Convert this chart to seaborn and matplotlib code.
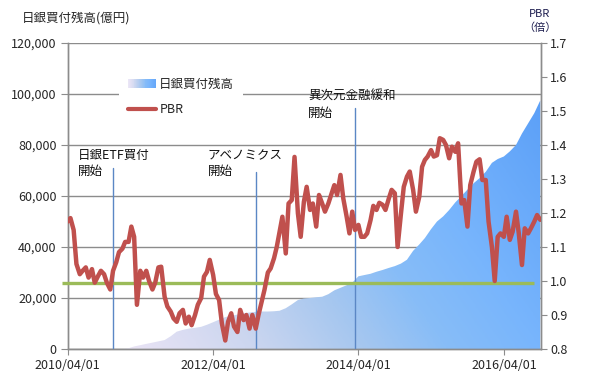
import numpy as np
import pandas as pd
import matplotlib
matplotlib.use("Agg")
import matplotlib.pyplot as plt
import matplotlib.dates as mdates
import seaborn as sns
from matplotlib.colors import LinearSegmentedColormap
from matplotlib.legend_handler import HandlerBase
from matplotlib.patches import Rectangle, Patch
from matplotlib.lines import Line2D
from matplotlib.ticker import FuncFormatter, MultipleLocator

sns.set_style("white")
plt.rcParams['font.family'] = ['Noto Sans CJK JP', 'DejaVu Sans']

# ---------------- data ----------------
pbr_start = "2010-04-01"   # semi-monthly samples
pbr_values = [
    1.175, 1.185, 1.15, 1.05, 1.02, 1.03, 1.04, 1.01, 1.035, 0.995,
    1.015, 1.03, 1.02, 0.995, 0.975, 1.03, 1.055, 1.085, 1.095, 1.115,
    1.115, 1.16, 1.13, 0.93, 1.03, 1.01, 1.03, 1.0, 0.975, 0.995,
    1.04, 1.042, 0.954, 0.925, 0.91, 0.89, 0.88, 0.905, 0.915, 0.875,
    0.895, 0.87, 0.9, 0.93, 0.95, 1.013, 1.027, 1.062, 1.018, 0.962,
    0.944, 0.875, 0.825, 0.88, 0.905, 0.866, 0.85, 0.915, 0.885, 0.9,
    0.86, 0.9, 0.86, 0.9, 0.939, 0.974, 1.025, 1.037, 1.067, 1.101,
    1.145, 1.189, 1.081, 1.228, 1.238, 1.365, 1.199, 1.13, 1.233, 1.277,
    1.209, 1.228, 1.16, 1.253, 1.228, 1.204, 1.228, 1.253, 1.282, 1.253,
    1.312, 1.243, 1.189, 1.14, 1.204, 1.15, 1.165, 1.13, 1.13, 1.14,
    1.179, 1.221, 1.209, 1.23, 1.224, 1.209, 1.243, 1.268, 1.258, 1.1,
    1.199, 1.277, 1.307, 1.322, 1.268, 1.204, 1.248, 1.336, 1.356, 1.366,
    1.385, 1.366, 1.37, 1.42, 1.415, 1.4, 1.361, 1.395, 1.38, 1.405,
    1.228, 1.238, 1.16, 1.282, 1.322, 1.351, 1.358, 1.297, 1.297, 1.175,
    1.1, 1.0, 1.13, 1.14, 1.13, 1.189, 1.121, 1.145, 1.204, 1.14,
    1.047, 1.155, 1.14, 1.155, 1.175, 1.194, 1.18,
]

holding_start = "2011-01-01"   # monthly, 億円
holding_values = [
    0, 300, 1000, 1500, 2000, 2500, 3000, 3500, 5000, 6800,
    7500, 8000, 8300, 8700, 9500, 10500, 11500, 12500, 13000, 13500,
    14000, 14300, 14600, 14700, 14700, 14800, 15000, 16000, 17500, 19200,
    19800, 20000, 20300, 20500, 21500, 23000, 24000, 25000, 26000, 28500,
    29000, 29500, 30300, 31000, 31800, 32500, 33500, 35000, 38500, 41000,
    43500, 47000, 50000, 52000, 54500, 57500, 60000, 62500, 65000, 67000,
    69500, 73000, 74500, 75500, 77500, 80000, 84500, 88500, 92500, 97500,
]

pbr_one = 0.995
x_tick_dates = ["2010-04-01", "2012-04-01", "2014-04-01", "2016-04-01"]
x_tick_labels = ["2010/04/01", "2012/04/01", "2014/04/01", "2016/04/01"]
event_labels = ["日銀ETF買付\n開始", "アベノミクス\n開始", "異次元金融緩和\n開始"]
event_dates = ["2010-11-13", "2012-11-01", "2014-03-13"]
legend_labels = ["日銀買付残高", "PBR"]

# ---------------- frames ----------------
pbr_df = pd.DataFrame({
    "date": pd.date_range(pbr_start, periods=len(pbr_values), freq="SMS"),
    "PBR": pbr_values,
})
hold_df = pd.DataFrame({
    "date": pd.date_range(holding_start, periods=len(holding_values), freq="MS"),
    "hold": holding_values,
})

RED = "#c0504d"
GREEN = "#9bbb59"
VBLUE = "#5b87c5"
GRID = "#8c8c8c"

fig = plt.figure(figsize=(5.9, 3.8), dpi=100)
ax = fig.add_axes([0.1147, 0.0816, 0.8017, 0.8052])
ax2 = ax.twinx()

x0 = pd.Timestamp("2010-04-01")
x1 = pd.Timestamp("2016-10-03")
ax.set_xlim(x0, x1)
ax.set_ylim(0, 120000)
ax2.set_ylim(0.8, 1.7)

# gradient area
grad_cmap = LinearSegmentedColormap.from_list("g", [
    (0.0, (0.95, 0.94, 0.98)),
    (0.1, (0.91, 0.89, 0.96)),
    (0.28, (0.80, 0.84, 0.94)),
    (0.45, (0.65, 0.78, 0.94)),
    (0.58, (0.53, 0.74, 0.97)),
    (0.72, (0.47, 0.71, 0.99)),
    (1.0, (0.35, 0.62, 0.97)),
])
poly = ax.fill_between(hold_df["date"], 0, hold_df["hold"], color="none", lw=0, zorder=2)
path = poly.get_paths()[0]
nx, ny = 300, 150
xx, yy = np.meshgrid(np.linspace(0, 1, nx), np.linspace(0, 1, ny))
t = np.clip(0.72 * xx + 0.32 * yy, 0, 1)
img = grad_cmap(t)
xn0, xn1 = mdates.date2num(x0), mdates.date2num(x1)
im = ax.imshow(img, extent=[xn0, xn1, 0, 120000], origin="lower", aspect="auto", zorder=2)
im.set_clip_path(path, transform=ax.transData)
ax.set_xlim(x0, x1)
ax.set_ylim(0, 120000)

# grid
ax.yaxis.set_major_locator(MultipleLocator(20000))
ax.grid(axis="y", color=GRID, lw=1.0, zorder=0)
ax.grid(axis="x", visible=False)
ax.set_axisbelow(True)
ax.yaxis.set_major_formatter(FuncFormatter(lambda v, p: f"{int(v):,}"))

# vertical event lines + labels
ev_tops = [0.59, 0.58, 0.788]
txt_pos = [("2010-05-23", 78500), ("2012-03-06", 78500), ("2013-07-23", 101500)]
for d, top in zip(event_dates, ev_tops):
    ax2.axvline(pd.Timestamp(d), ymin=0, ymax=top, color=VBLUE, lw=1.0, zorder=3)
for lab, (d, yv) in zip(event_labels, txt_pos):
    ax.text(pd.Timestamp(d), yv, lab, fontsize=9, va="top", ha="left",
            linespacing=1.35, color="#111111", zorder=6)

# PBR=1 green line
ax2.plot([pd.Timestamp("2010-03-03"), pd.Timestamp("2016-09-01")], [pbr_one, pbr_one],
         color=GREEN, lw=2.4, clip_on=False, zorder=4, solid_capstyle="butt")

# PBR line
sns.lineplot(data=pbr_df, x="date", y="PBR", ax=ax2, color=RED, lw=3.2, zorder=5)
ax2.set_ylim(0.8, 1.7)
ax2.yaxis.set_major_locator(MultipleLocator(0.1))
ax2.yaxis.set_major_formatter(FuncFormatter(lambda v, p: f"{v:.1f}"))
ax2.set_xlabel("")
ax2.set_ylabel("")
ax.set_xlabel("")
ax.set_ylabel("")

# x ticks
ax.set_xticks([pd.Timestamp(d) for d in x_tick_dates])
ax.set_xticklabels(x_tick_labels)
ax.set_xlim(x0, x1)

for a in (ax, ax2):
    a.spines["top"].set_visible(False)
    for s in ("left", "right", "bottom"):
        a.spines[s].set_color(GRID)
        a.spines[s].set_linewidth(1.0)
ax.tick_params(axis="x", length=4, color=GRID, labelsize=9, pad=3, direction="out", bottom=True)
ax.tick_params(axis="y", length=5, color=GRID, labelsize=9, pad=3, left=True)
ax2.tick_params(axis="y", length=4, color=GRID, labelsize=9, pad=3, right=True)

# legend
class GradHandler(HandlerBase):
    def create_artists(self, legend, orig_handle, xdescent, ydescent, width, height, fontsize, trans):
        n = 30
        arts = []
        for k in range(n):
            c = grad_cmap(0.08 + 0.8 * k / (n - 1))
            r = Rectangle((-xdescent + k * width / n, -ydescent), width / n + 0.3, height,
                          facecolor=c, edgecolor="none", transform=trans)
            arts.append(r)
        return arts

h1 = Patch(facecolor="#8fbff5")
h2 = Line2D([0], [0], color=RED, lw=3.0)
leg = ax2.legend([h1, h2], legend_labels, handler_map={Patch: GradHandler()},
                 loc="upper left", bbox_to_anchor=(0.096, 0.935), fontsize=9,
                 frameon=True, facecolor="white", edgecolor="none", framealpha=1,
                 fancybox=False, handlelength=2.2, handletextpad=0.3,
                 labelspacing=1.0, borderpad=0.7)
leg.set_zorder(10)

# titles
fig.text(22 / 590, 1 - 18 / 380, "日銀買付残高(億円)", fontsize=9, va="center", ha="left")
fig.text(540 / 590, 1 - 21 / 380, "PBR\n（倍）", fontsize=8, va="center", ha="center",
         color="#1f1f50", linespacing=1.3)

fig.savefig("out.png", dpi=100)
